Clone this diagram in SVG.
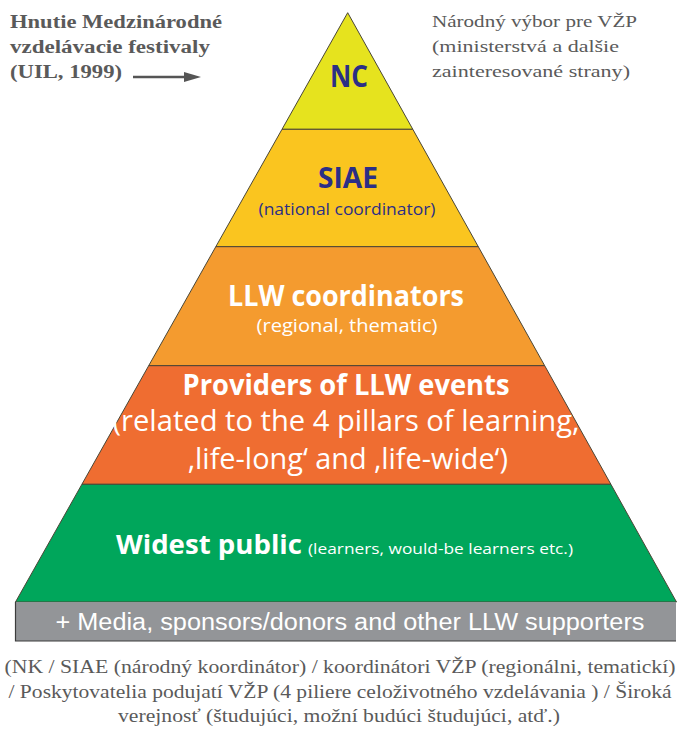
<svg xmlns="http://www.w3.org/2000/svg" width="678" height="731" viewBox="0 0 678 731">
<style>
.layer{stroke:#4a4636;stroke-width:1;stroke-linejoin:miter}
.sans{font-family:"Open Sans","Noto Sans","Liberation Sans",sans-serif}
.b{font-weight:bold}
.navy{fill:#2b2f86}
.white{fill:#ffffff}
.serif{font-family:"Liberation Serif","DejaVu Serif",serif;fill:#5a5a5a}
.mid{text-anchor:middle}
</style>
<defs>
<marker id="ah" markerWidth="10" markerHeight="10" refX="7" refY="5" orient="auto" markerUnits="userSpaceOnUse">
<path d="M0,0 L16,5 L0,10 Z" fill="#555555"/>
</marker>
</defs>
<rect width="678" height="731" fill="#ffffff"/>

<g id="annotation-left">
<text class="serif b" x="10" y="28" font-size="18" textLength="212" lengthAdjust="spacingAndGlyphs">Hnutie Medzinárodné</text>
<text class="serif b" x="10" y="53" font-size="18" textLength="200" lengthAdjust="spacingAndGlyphs">vzdelávacie festivaly</text>
<text class="serif b" x="10" y="78" font-size="18" textLength="112" lengthAdjust="spacingAndGlyphs">(UIL, 1999)</text>
</g>

<g id="connectors">
<line x1="133" y1="77" x2="186" y2="77" stroke="#555555" stroke-width="2.5"/>
<path d="M184,72 L201,77 L184,82 Z" fill="#555555"/>
</g>

<g id="annotation-right">
<text class="serif" x="432" y="27" font-size="17.5" textLength="205" lengthAdjust="spacingAndGlyphs">Národný výbor pre VŽP</text>
<text class="serif" x="432" y="52" font-size="17.5" textLength="187" lengthAdjust="spacingAndGlyphs">(ministerstvá a dalšie</text>
<text class="serif" x="432" y="77" font-size="17.5" textLength="198" lengthAdjust="spacingAndGlyphs">zainteresované strany)</text>
</g>

<g id="layer-nc">
<polygon class="layer" points="347.7,12.7 412.8,129.3 282,129.3" fill="#e6e31e"/>
<text class="sans b navy mid" x="349" y="87" font-size="30" textLength="38" lengthAdjust="spacingAndGlyphs">NC</text>
</g>

<g id="layer-siae">
<polygon class="layer" points="282,129.3 412.8,129.3 478.3,246.7 215.8,246.7" fill="#fac51f"/>
<text class="sans b navy mid" x="348" y="188" font-size="28" textLength="60" lengthAdjust="spacingAndGlyphs">SIAE</text>
<text class="sans navy mid" x="347" y="215" font-size="16" textLength="177" lengthAdjust="spacingAndGlyphs">(national coordinator)</text>
</g>

<g id="layer-llw">
<polygon class="layer" points="215.8,246.7 478.3,246.7 544.7,365.7 148.7,365.7" fill="#f49b2f"/>
<text class="sans b white mid" x="346" y="306" font-size="28" textLength="236" lengthAdjust="spacingAndGlyphs">LLW coordinators</text>
<text class="sans white mid" x="347" y="332" font-size="18" textLength="181" lengthAdjust="spacingAndGlyphs">(regional, thematic)</text>
</g>

<g id="layer-providers">
<polygon class="layer" points="148.7,365.7 544.7,365.7 610.9,484.3 81.9,484.3" fill="#ef6d31"/>
<text class="sans b white mid" x="346" y="395" font-size="28" textLength="327" lengthAdjust="spacingAndGlyphs">Providers of LLW events</text>
<text class="sans white mid" x="346" y="431" font-size="29" textLength="467" lengthAdjust="spacingAndGlyphs">(related to the 4 pillars of learning,</text>
<text class="sans white mid" x="348" y="469" font-size="29" textLength="320" lengthAdjust="spacingAndGlyphs">‚life-long‘ and ‚life-wide‘)</text>
</g>

<g id="layer-public">
<polygon class="layer" points="81.9,484.3 610.9,484.3 676.5,602 15.5,602" fill="#00a65b"/>
<text class="sans white" x="116" y="554" font-size="27" textLength="186" lengthAdjust="spacingAndGlyphs" font-weight="bold">Widest public</text>
<text class="sans white" x="308" y="554" font-size="15" textLength="265" lengthAdjust="spacingAndGlyphs">(learners, would-be learners etc.)</text>
</g>

<g id="supporters-bar">
<rect x="15" y="602" width="661" height="39" fill="#939598"/>
<path d="M15.5,602 L15.5,641 L676,641" fill="none" stroke="#3c3c3c" stroke-width="1.2"/>
<text class="white mid" x="350" y="630" font-family="'Liberation Sans',Arial,sans-serif" font-size="23" textLength="589" lengthAdjust="spacingAndGlyphs">+ Media, sponsors/donors and other LLW supporters</text>
</g>

<g id="caption">
<text class="serif mid" x="340" y="673" font-size="18.5" textLength="671" lengthAdjust="spacingAndGlyphs">(NK / SIAE (národný koordinátor) / koordinátori VŽP (regionálni, tematickí)</text>
<text class="serif mid" x="340" y="698" font-size="18.5" textLength="663" lengthAdjust="spacingAndGlyphs">/ Poskytovatelia podujatí VŽP (4 piliere celoživotného vzdelávania ) / Široká</text>
<text class="serif mid" x="339" y="722" font-size="18.5" textLength="442" lengthAdjust="spacingAndGlyphs">verejnosť (študujúci, možní budúci študujúci, atď.)</text>
</g>
</svg>
